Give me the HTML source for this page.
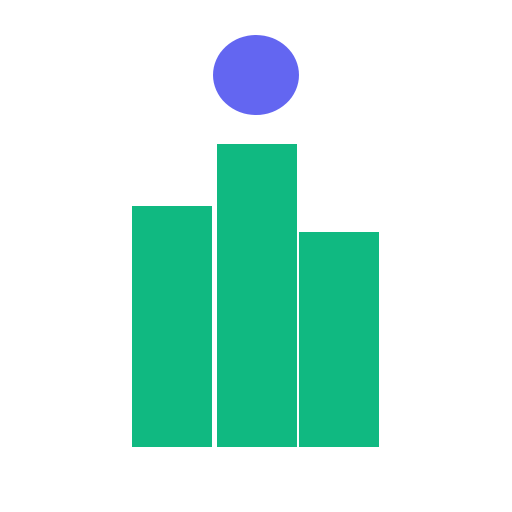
<!DOCTYPE html>
<html><head><meta charset="utf-8"><style>html,body{margin:0;padding:0;background:#fff;}svg{display:block}</style></head>
<body>
<svg id="chart" width="512" height="512" viewBox="0 0 512 512" xmlns="http://www.w3.org/2000/svg">
<ellipse cx="256" cy="75" rx="43" ry="40" fill="#6366f1"/>
<g id="bars"></g>
</svg>
<script>
const categories = ["left", "middle", "right"];
const values = [241, 303, 215];
const barLefts = [132, 217, 299];
const barWidth = 80;
const baseline = 447;
function yScale(v) { return baseline - v; }
function xScale(i) { return barLefts[i]; }
const g = document.getElementById('bars');
categories.forEach((c, i) => {
  const r = document.createElementNS('http://www.w3.org/2000/svg', 'rect');
  r.setAttribute('x', xScale(i));
  r.setAttribute('y', yScale(values[i]));
  r.setAttribute('width', barWidth);
  r.setAttribute('height', baseline - yScale(values[i]));
  r.setAttribute('fill', '#10b981');
  
  
  g.appendChild(r);
});
</script>
</body></html>
